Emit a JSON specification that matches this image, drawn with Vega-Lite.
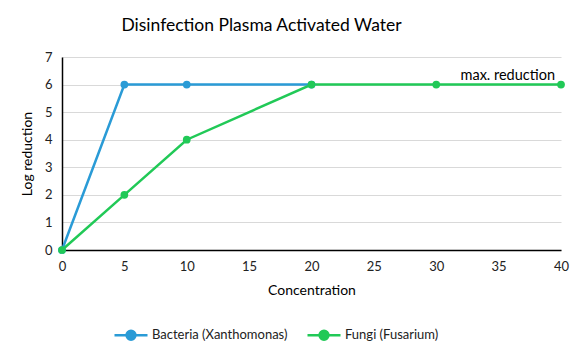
{
  "$schema": "https://vega.github.io/schema/vega-lite/v6.json",
  "width": 499,
  "height": 193,
  "autosize": {"type": "none"},
  "padding": {"left": 62, "top": 57, "right": 24, "bottom": 103},
  "background": "white",
  "title": {
    "text": "Disinfection Plasma Activated Water",
    "anchor": "middle",
    "dx": -50,
    "font": "Lato",
    "fontSize": 17.5,
    "fontWeight": "normal",
    "color": "#000000",
    "offset": 17
  },
  "config": {
    "font": "Lato",
    "view": {"stroke": null},
    "axis": {
      "labelFont": "Lato",
      "labelFontSize": 13,
      "labelColor": "#222222",
      "labelFlush": false,
      "titleFont": "Lato",
      "titleFontSize": 14,
      "titleFontWeight": "normal",
      "titleColor": "#000000",
      "ticks": false,
      "domainColor": "#000000",
      "domainWidth": 1.5,
      "gridColor": "#d9d9d9",
      "gridWidth": 1.2
    }
  },
  "data": {
    "values": [
      {"series": "Bacteria (Xanthomonas)", "conc": 0, "log": 0},
      {"series": "Bacteria (Xanthomonas)", "conc": 5, "log": 6},
      {"series": "Bacteria (Xanthomonas)", "conc": 10, "log": 6},
      {"series": "Bacteria (Xanthomonas)", "conc": 20, "log": 6},
      {"series": "Fungi (Fusarium)", "conc": 0, "log": 0},
      {"series": "Fungi (Fusarium)", "conc": 5, "log": 2},
      {"series": "Fungi (Fusarium)", "conc": 10, "log": 4},
      {"series": "Fungi (Fusarium)", "conc": 20, "log": 6},
      {"series": "Fungi (Fusarium)", "conc": 30, "log": 6},
      {"series": "Fungi (Fusarium)", "conc": 40, "log": 6}
    ]
  },
  "layer": [
    {
      "mark": {"type": "line", "strokeWidth": 2.5, "clip": false, "point": {"filled": true, "size": 60}},
      "encoding": {
        "x": {
          "field": "conc", "type": "quantitative", "title": "Concentration",
          "scale": {"domain": [0, 40], "nice": false},
          "axis": {"values": [0, 5, 10, 15, 20, 25, 30, 35, 40], "grid": false, "labelPadding": 10, "titlePadding": 10}
        },
        "y": {
          "field": "log", "type": "quantitative", "title": "Log reduction",
          "scale": {"domain": [0, 7], "nice": false},
          "axis": {"values": [0, 1, 2, 3, 4, 5, 6, 7], "labelPadding": 10, "titlePadding": 10}
        },
        "color": {
          "field": "series", "type": "nominal", "title": null,
          "scale": {"domain": ["Bacteria (Xanthomonas)", "Fungi (Fusarium)"], "range": ["#2a9bd6", "#21c957"]},
          "legend": {
            "orient": "none",
            "legendX": 51,
            "legendY": 260,
            "direction": "horizontal",
            "padding": 0,
            "columnPadding": 14,
            "labelOffset": 3,
            "labelFont": "Lato",
            "labelFontSize": 13,
            "labelColor": "#222222",
            "symbolType": "M-1,0H1M-0.27,0A0.27,0.27 0 1,1 0.27,0A0.27,0.27 0 1,1 -0.27,0Z",
            "symbolSize": 1089,
            "symbolStrokeWidth": 2.5,
            "encode": {"symbols": {"update": {"fill": {"scale": "color", "field": "value"}}}}
          }
        }
      }
    },
    {
      "data": {"values": [{"conc": 40, "log": 6, "label": "max. reduction"}]},
      "mark": {"type": "text", "align": "right", "baseline": "middle", "dx": -6, "dy": -9, "font": "Lato", "fontSize": 14.5, "color": "#000000"},
      "encoding": {
        "x": {"field": "conc", "type": "quantitative", "axis": {"values": [0, 5, 10, 15, 20, 25, 30, 35, 40], "grid": false, "labelPadding": 10, "titlePadding": 10}, "title": "Concentration"},
        "y": {"field": "log", "type": "quantitative", "axis": {"values": [0, 1, 2, 3, 4, 5, 6, 7], "labelPadding": 10, "titlePadding": 10}, "title": "Log reduction"},
        "text": {"field": "label"}
      }
    }
  ]
}
